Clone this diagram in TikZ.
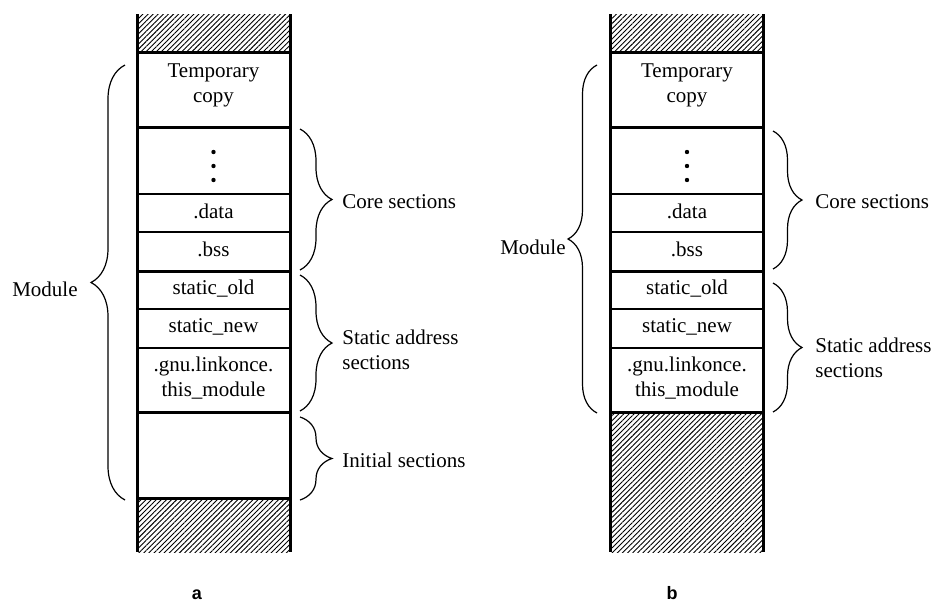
\documentclass[tikz,border=0pt]{standalone}
\usepackage{fontspec}
\setmainfont{Liberation Serif}
\newfontfamily\labelfont{Liberation Sans}
\usetikzlibrary{decorations.pathreplacing,patterns.meta}

\begin{document}
\begin{tikzpicture}[x=0.5pt,y=-0.5pt,
    wall/.style={line width=1.5pt},
    thinsep/.style={line width=0.8pt},
    hatch/.style={pattern={Lines[angle=45,distance=1.8pt,line width=0.45pt]}},
    txt/.style={font=\fontsize{10.5}{12.5}\selectfont,align=center,inner sep=0pt},
    dot/.style={circle,fill,inner sep=0pt,minimum size=2.2pt},
    brc/.style={decorate,decoration={brace,amplitude=#1},line width=0.6pt},
    sub/.style={font=\labelfont\bfseries\fontsize{9}{10}\selectfont,inner sep=0pt}]
  \useasboundingbox (0,0) rectangle (933,600);
  % both memory columns share the upper part
  \foreach \c/\dx in {a/0,b/473.5}{
    \path[hatch] ({137+\dx},14) rectangle ({290+\dx},52);
    \draw[thinsep] ({137+\dx},194) -- ({290+\dx},194);
    \draw[thinsep] ({137+\dx},232) -- ({290+\dx},232);
    \draw[thinsep] ({137+\dx},309) -- ({290+\dx},309);
    \draw[thinsep] ({137+\dx},348) -- ({290+\dx},348);
    \foreach \y in {52,127,271,412}
      \draw[wall] ({137+\dx},\y) -- ({290+\dx},\y);
    \draw[wall] ({137+\dx},14) -- ({137+\dx},552);
    \draw[wall] ({290+\dx},14) -- ({290+\dx},552);
    \node[txt] (tmp\c) at ({213.5+\dx},85) {Temporary\\copy};
    \node[dot] (dotsup\c) at ({213.5+\dx},152) {};
    \node[dot] (dotsmid\c) at ({213.5+\dx},166) {};
    \node[dot] (dotslow\c) at ({213.5+\dx},180) {};
    \node[txt] (data\c) at ({213.5+\dx},211) {.data};
    \node[txt] (bss\c) at ({213.5+\dx},249) {.bss};
    \node[txt] (old\c) at ({213.5+\dx},289) {static\_old};
    \node[txt] (new\c) at ({213.5+\dx},327) {static\_new};
    \node[txt] (gnu\c) at ({213.5+\dx},378) {.gnu.linkonce.\\this\_module};
  }
  % lower part of a: initial sections
  \path[hatch] (137,498) rectangle (290,552);
  \draw[wall] (137,498) -- (290,498);
  % lower part of b: free space
  \path[hatch] (610.5,412) rectangle (763.5,552);

  % braces of a
  \coordinate (modtopa) at (125,65);
  \coordinate (modbota) at (125,500);
  \coordinate (coretopa) at (300,129);
  \coordinate (corebota) at (300,270);
  \coordinate (stattopa) at (300,275);
  \coordinate (statbota) at (300,411);
  \coordinate (inittopa) at (300,417);
  \coordinate (initbota) at (300,500);
  \draw[brc=17pt] (modbota) -- (modtopa);
  \draw[brc=16pt] (coretopa) -- (corebota);
  \draw[brc=16pt] (stattopa) -- (statbota);
  \draw[brc=16pt] (inittopa) -- (initbota);
  \node[txt,anchor=east] (moda) at (78,289) {Module};
  \node[txt,anchor=west] (corea) at (342,202) {Core sections};
  \node[txt,anchor=west,align=left] (stata) at (342,350) {Static address\\sections};
  \node[txt,anchor=west] (inita) at (342,460) {Initial sections};

  % braces of b
  \coordinate (modtopb) at (597,65);
  \coordinate (modbotb) at (597,413);
  \coordinate (coretopb) at (773,131);
  \coordinate (corebotb) at (773,269);
  \coordinate (stattopb) at (773,283);
  \coordinate (statbotb) at (773,412);
  \draw[brc=14.5pt] (modbotb) -- (modtopb);
  \draw[brc=14.5pt] (coretopb) -- (corebotb);
  \draw[brc=14.5pt] (stattopb) -- (statbotb);
  \node[txt,anchor=east] (modb) at (566,247) {Module};
  \node[txt,anchor=west] (coreb) at (815,202) {Core sections};
  \node[txt,anchor=west,align=left] (statb) at (815,358) {Static address\\sections};

  \node[sub,anchor=base] (capa) at (197,599) {a};
  \node[sub,anchor=base] (capb) at (672,599) {b};
\end{tikzpicture}
\end{document}
